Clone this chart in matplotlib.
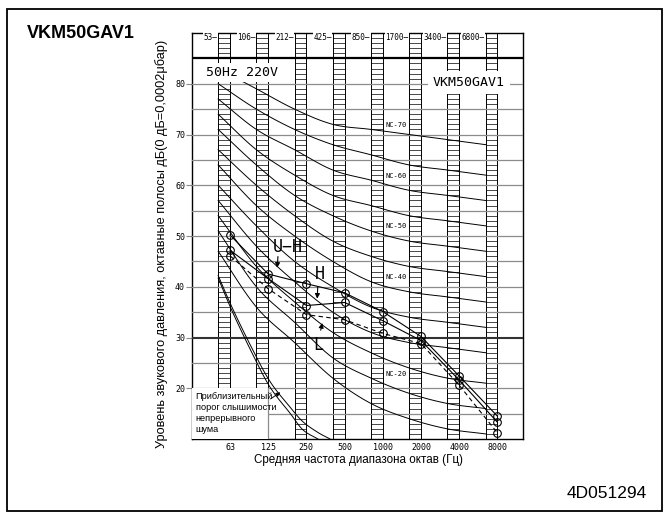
import numpy as np
import matplotlib
matplotlib.use("Agg")
import matplotlib.pyplot as plt
from matplotlib.patches import Rectangle

W, H = 669, 516

# octave band centre frequencies (bottom) and old band centres (header)
bands = ["63", "125", "250", "500", "1000", "2000", "4000", "8000"]
old_bands = ["53", "106", "212", "425", "850", "1700", "3400", "6800"]

# NC curves, dB at each band
nc_numbers = [15, 20, 25, 30, 35, 40, 45, 50, 55, 60, 65, 70]
nc_levels = [
    [47, 36, 29, 22, 17, 14, 12, 11],
    [51, 40, 33, 26, 22, 19, 17, 16],
    [54, 44, 37, 31, 27, 24, 22, 21],
    [57, 48, 41, 35, 31, 29, 28, 27],
    [60, 52, 45, 40, 36, 34, 33, 32],
    [64, 56, 50, 45, 41, 39, 38, 37],
    [67, 60, 54, 49, 46, 44, 43, 42],
    [71, 64, 58, 54, 51, 49, 48, 47],
    [74, 67, 62, 58, 56, 54, 53, 52],
    [77, 71, 67, 63, 61, 59, 58, 57],
    [80, 75, 71, 68, 66, 64, 63, 62],
    [83, 79, 75, 72, 71, 70, 69, 68],
]
nc_labelled = [20, 40, 50, 60, 70]

# measured unit levels
uh_levels = [50.2, 42.5, 40.6, 38.8, 35.1, 30.2, 22.4, 14.5]
h_levels = [47.2, 41.6, 36.3, 36.9, 33.3, 29.4, 21.6, 13.3]
l_levels = [46.1, 39.6, 34.5, 33.5, 30.8, 28.8, 20.6, 11.2]

# approximate threshold of hearing (two lines), x in octave steps from 63 Hz
thr_pos_a = [-0.31, 0.08, 0.58, 1.05, 1.57, 1.91, 2.30]
thr_db_a = [41.7, 34.8, 26.9, 20.2, 15.1, 11.8, 10.0]
thr_pos_b = [-0.31, 0.08, 0.58, 1.05, 1.57, 1.91, 2.30, 2.62]
thr_db_b = [42.2, 35.5, 27.8, 21.3, 16.3, 13.4, 11.3, 10.0]

TECH = "DejaVu Sans Mono"
SANS = "Liberation Sans"
COL_W = 0.31
GRID = "#8c8c8c"


def smooth(x, y, n=16):
    # Catmull-Rom through the given points, only for drawing
    x = np.asarray(x, float)
    y = np.asarray(y, float)
    px = np.concatenate([[2 * x[0] - x[1]], x, [2 * x[-1] - x[-2]]])
    py = np.concatenate([[2 * y[0] - y[1]], y, [2 * y[-1] - y[-2]]])
    xs, ys = [], []
    t = np.linspace(0, 1, n, endpoint=False)
    for i in range(1, len(px) - 2):
        for arr, out in ((px, xs), (py, ys)):
            p0, p1, p2, p3 = arr[i - 1:i + 3]
            out.extend(0.5 * (2 * p1 + (-p0 + p2) * t
                              + (2 * p0 - 5 * p1 + 4 * p2 - p3) * t ** 2
                              + (-p0 + 3 * p1 - 3 * p2 + p3) * t ** 3))
    xs.append(x[-1])
    ys.append(y[-1])
    return np.array(xs), np.array(ys)


fig = plt.figure(figsize=(W / 100, H / 100), dpi=100)

# outer frame
fig.add_artist(Rectangle((7 / W, 5 / H), 655 / W, 502 / H, transform=fig.transFigure,
                         fill=False, ec="black", lw=1.3))
fig.text(27 / W, 1 - 38 / H, "VKM50GAV1", fontsize=13, fontweight="bold",
         family=SANS, va="baseline")
fig.text(567 / W, 1 - 498 / H, "4D051294", fontsize=12.5, family=SANS, va="baseline")

ax = fig.add_axes([192 / W, 1 - 439 / H, (523 - 192) / W, (439 - 33) / H])
ax.set_xlim(-0.995, 7.67)
ax.set_ylim(10, 90)
for s in ax.spines.values():
    s.set_linewidth(1.0)

# horizontal grid
for y in range(15, 85, 5):
    x0 = 1.0 if y == 15 else -0.995
    lw, c = (1.5, "#333333") if y == 30 else (0.9, GRID)
    ax.plot([x0, 7.67], [y, y], color=c, lw=lw, zorder=3)
ax.axhline(85, color="black", lw=1.6, zorder=3)

# striped band columns
for k in range(len(bands)):
    x0, x1 = k - COL_W, k
    ax.add_patch(Rectangle((x0, 10), COL_W, 80, fc="white", ec="none", zorder=1))
    ax.vlines([x0, x1], 10, 90, color="black", lw=0.7, zorder=2)
    ax.hlines(np.arange(10, 91, 1), x0, x1, color="black", lw=0.5, zorder=2)
    ax.text(x0 - 0.02, 89.2, old_bands[k] + "\u2014", ha="right", va="center",
            fontsize=5.5, family=TECH, zorder=6,
            bbox=dict(fc="white", ec="none", pad=0.3))

# NC curves
for num, lev in zip(nc_numbers, nc_levels):
    xs, ys = smooth(np.arange(len(lev)) - COL_W, lev)
    ax.plot(xs, ys, color="black", lw=0.7, zorder=4)
    if num in nc_labelled:
        ax.text(4.35, lev[4] + 0.9, f"NC-{num}", ha="center", va="center",
                fontsize=5, family=TECH, zorder=6,
                bbox=dict(fc="white", ec="none", pad=0.4))

# threshold of hearing
for px_, py_ in ((thr_pos_a, thr_db_a), (thr_pos_b, thr_db_b)):
    xs, ys = smooth(px_, py_)
    ax.plot(xs, ys, color="black", lw=0.7, zorder=4)

# notes with white backgrounds
ax.text(-0.62, 82.2, "50Hz 220V", fontsize=9.5, family=TECH, va="center", zorder=7,
        bbox=dict(fc="white", ec="none", pad=2))
ax.text(5.31, 80.2, "VKM50GAV1", fontsize=9.5, family=TECH, va="center", zorder=7,
        bbox=dict(fc="white", ec="none", pad=3.5))

ax.add_patch(Rectangle((-0.995, 10), 1.995, 10, fc="white", ec="none", zorder=5))
ax.plot([1.0, 1.0], [10, 20], color=GRID, lw=0.9, zorder=6)
ax.text(-0.9, 19.3,
        "Приблизительный\nпорог слышимости\nнепрерывного\nшума",
        fontsize=6.6, family=SANS, va="top", ha="left", linespacing=1.3, zorder=7)
ax.annotate("", xy=(1.38, 19.5), xytext=(1.0, 17.6),
            arrowprops=dict(arrowstyle="-|>", color="black", lw=0.7,
                            mutation_scale=6), zorder=7)

# measured data
pos = np.arange(len(bands))
mk = dict(marker="o", mfc="none", ms=5.5, mew=0.8, color="black", zorder=8)
ax.plot(pos, uh_levels, lw=0.8, **mk)
ax.plot(pos, h_levels, lw=0.8, **mk)
ax.plot(pos, l_levels, lw=0.8, ls=(0, (4, 3)), **mk)

arrow = dict(arrowstyle="-|>", color="black", lw=0.8, mutation_scale=7)
ax.text(1.52, 47.8, "U\u2212H", fontsize=12, family=TECH, ha="center", va="center",
        zorder=9)
ax.annotate("", xy=(1.23, 43.2), xytext=(1.26, 46.5), arrowprops=arrow, zorder=9)
ax.text(2.35, 42.6, "H", fontsize=12, family=TECH, ha="center", va="center", zorder=9)
ax.annotate("", xy=(2.28, 37.1), xytext=(2.3, 40.6), arrowprops=arrow, zorder=9)
ax.text(2.3, 28.6, "L", fontsize=12, family=TECH, ha="center", va="center", zorder=9)
ax.annotate("", xy=(2.43, 33.4), xytext=(2.36, 30.9), arrowprops=arrow, zorder=9)

# ticks
ax.set_xticks(pos)
ax.set_xticklabels(bands, fontsize=6, family=TECH)
ax.set_yticks(range(20, 90, 10))
ax.set_yticklabels([str(v) for v in range(20, 90, 10)], fontsize=6, family=TECH)
ax.tick_params(axis="x", length=0, pad=3)
ax.tick_params(axis="y", length=4, pad=1, color=GRID)

fig.text(358 / W, 1 - 460 / H, "Средняя частота диапазона октав (Гц)", fontsize=8.4,
         family=SANS, ha="center", va="center")
fig.text(162 / W, 1 - 244 / H,
         "Уровень звукового давления, октавные полосы дБ(0 дБ=0,0002μбар)",
         fontsize=9.2, family=SANS, rotation=90, ha="center", va="center")

fig.savefig("out.png", dpi=100)
